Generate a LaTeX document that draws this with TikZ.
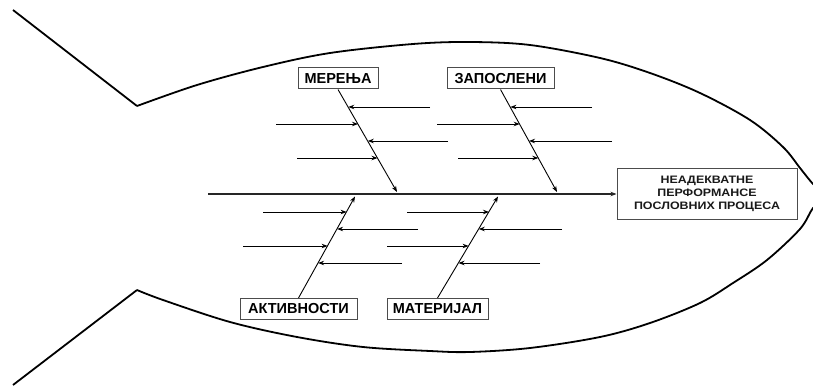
\documentclass[tikz,border=0pt]{standalone}
\usepackage{fontspec}
\setmainfont{Liberation Sans}[BoldFont={Liberation Sans Bold}]
\newfontfamily\effectfont[FakeStretch=1.15,BoldFont={Liberation Sans Bold}]{Liberation Sans}
\usetikzlibrary{arrows.meta}
\begin{document}
\begin{tikzpicture}[x=1pt,y=-1pt,
  outline/.style={line width=1.8pt, line join=round},
  catbox/.style={draw=black!70, line width=1pt, font=\bfseries\fontsize{14.5}{16}\selectfont, inner sep=2pt, minimum height=21pt, text=black},
  effectbox/.style={draw=black!70, line width=1pt, font=\effectfont\bfseries\fontsize{10.8}{13}\selectfont, align=center, minimum width=180pt, minimum height=51pt, inner sep=2pt, text=black!90},
  bone/.style={line width=0.9pt, -{Stealth[length=6pt,width=4.5pt]}},
  sub/.style={line width=0.9pt, -{Stealth[length=6pt,width=4.5pt]}},
  spine/.style={line width=1.2pt, draw=black!85, -{Stealth[length=6pt,width=4.5pt]}}]
\useasboundingbox (0,0) rectangle (813,387);

% fish outline
\begin{scope}
\clip (0,0) rectangle (813,387);
\draw[outline] (13,10) -- (137,106);
\draw[outline] (13,385) -- (137,290);
\draw[outline] plot[smooth, tension=0.55] coordinates {
  (137,106) (197,85) (263,67) (330,53) (413,44) (470,42) (530,45) (600,58)
  (650,73) (700,93) (750,120) (783,147) (800,168) (813,184) (826,196)
  (813,208) (800,229) (767,260) (733,283) (700,303) (650,323) (600,337)
  (530,348) (470,352) (430,351) (363,347) (297,337) (230,322) (163,300) (137,290)};
\end{scope}

% effect and spine
\node[effectbox] (effect) at (707,194) {НЕАДЕКВАТНЕ\\ПЕРФОРМАНСЕ\\ПОСЛОВНИХ ПРОЦЕСА};
\coordinate (spinestart) at (208,194);
\draw[spine] (spinestart) -- (effect.west);

% category boxes
\node[catbox, minimum width=80pt] (mer) at (338,78.5) {МЕРЕЊА};
\node[catbox, minimum width=107pt] (zap) at (500.5,78.5) {ЗАПОСЛЕНИ};
\node[catbox, minimum width=117pt] (akt) at (298.5,309) {АКТИВНОСТИ};
\node[catbox, minimum width=101pt] (mat) at (437.5,309) {МАТЕРИЈАЛ};

% bone ends on spine
\coordinate (merend) at (397,192);
\coordinate (zapend) at (557,192);
\coordinate (aktend) at (355,196.5);
\coordinate (matend) at (498,196.5);
\draw[bone] (mer.south) -- (merend);
\draw[bone] (zap.south) -- (zapend);
\draw[bone] (akt.north) -- (aktend);
\draw[bone] (mat.north) -- (matend);

% sub-causes: МЕРЕЊА
\coordinate (m1a) at (430,107);  \coordinate (m1b) at (348.3,107);
\coordinate (m2a) at (276,124);  \coordinate (m2b) at (358.0,124);
\coordinate (m3a) at (448,141);  \coordinate (m3b) at (367.8,141);
\coordinate (m4a) at (297,158);  \coordinate (m4b) at (377.5,158);
\foreach \i in {1,2,3,4} \draw[sub] (m\i a) -- (m\i b);

% ЗАПОСЛЕНИ
\coordinate (z1a) at (592,107);  \coordinate (z1b) at (510.4,107);
\coordinate (z2a) at (437,124);  \coordinate (z2b) at (519.7,124);
\coordinate (z3a) at (612,141);  \coordinate (z3b) at (529.0,141);
\coordinate (z4a) at (458,158);  \coordinate (z4b) at (538.3,158);
\foreach \i in {1,2,3,4} \draw[sub] (z\i a) -- (z\i b);

% АКТИВНОСТИ
\coordinate (a1a) at (263,212);  \coordinate (a1b) at (346.6,212);
\coordinate (a2a) at (418,229);  \coordinate (a2b) at (337.1,229);
\coordinate (a3a) at (243,246);  \coordinate (a3b) at (327.6,246);
\coordinate (a4a) at (402,263);  \coordinate (a4b) at (318.1,263);
\foreach \i in {1,2,3,4} \draw[sub] (a\i a) -- (a\i b);

% МАТЕРИЈАЛ
\coordinate (t1a) at (407,212);  \coordinate (t1b) at (489.0,212);
\coordinate (t2a) at (562,229);  \coordinate (t2b) at (478.8,229);
\coordinate (t3a) at (387,246);  \coordinate (t3b) at (468.6,246);
\coordinate (t4a) at (540,263);  \coordinate (t4b) at (458.5,263);
\foreach \i in {1,2,3,4} \draw[sub] (t\i a) -- (t\i b);
\end{tikzpicture}
\end{document}
